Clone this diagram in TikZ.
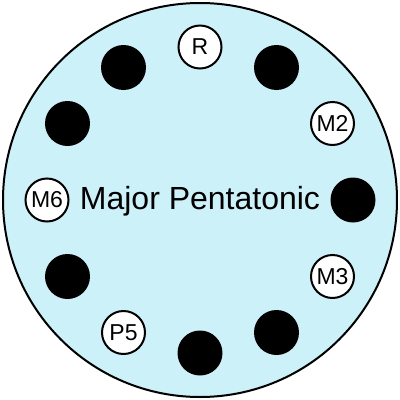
\documentclass[tikz,border=0pt]{standalone}
\usepackage{fontspec}
\setmainfont{Liberation Sans}
\definecolor{bgcyan}{RGB}{205,241,249}
\begin{document}
\begin{tikzpicture}[x=1pt,y=-1pt,
  note/.style={circle,draw=black,line width=2pt,fill=white,minimum size=43pt,inner sep=0pt,font=\fontsize{23}{23}\selectfont},
  blackdot/.style={circle,fill=black,minimum size=45pt,inner sep=0pt}]
\useasboundingbox (0,0) rectangle (400,400);
\node[circle,draw=black,line width=2pt,fill=bgcyan,minimum size=394pt,inner sep=0pt] (wheel) at (200,200) {};
\node[anchor=base,font=\fontsize{32}{32}\selectfont,inner sep=0pt] (title) at (200,209) {Major Pentatonic};
\foreach \ang/\lab/\nm in {0/R/p0,60/M2/p2,120/M3/p4,210/P5/p7,270/M6/p9}{
  \node[note] (\nm) at ({200+153*sin(\ang)},{200-153*cos(\ang)}) {\lab};
}
\foreach \ang/\nm in {30/p1,90/p3,150/p5,180/p6,240/p8,300/p10,330/p11}{
  \node[blackdot] (\nm) at ({200+153*sin(\ang)},{200-153*cos(\ang)}) {};
}
\end{tikzpicture}
\end{document}
